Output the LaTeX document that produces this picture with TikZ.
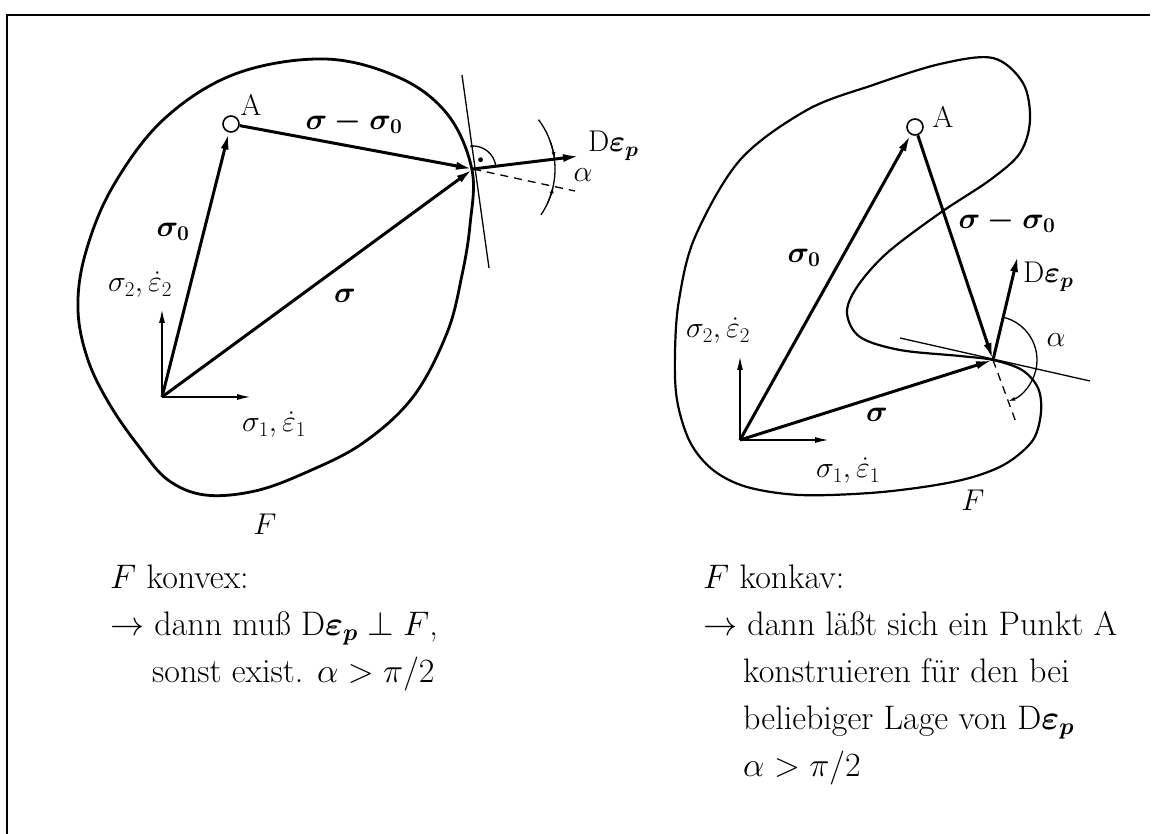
\RequirePackage{fix-cm}
\documentclass[tikz,border=0pt]{standalone}
\usepackage{amsmath,amssymb}
\usepackage{fontspec}
\usepackage{tikz}
\usetikzlibrary{arrows.meta,calc}
\tikzstyle{Lvec}   = [line width=3pt, -{Latex[length=17pt,width=8pt]}]
\tikzstyle{Laxis}  = [line width=2pt, -{Latex[length=15pt,width=6pt]}]
\tikzstyle{Lcurve} = [line width=2.8pt, line join=round]
\tikzstyle{Lthin}  = [line width=1.3pt]
\tikzstyle{Ldash}  = [line width=1.3pt, dash pattern=on 8pt off 6pt]
\tikzstyle{Lmark}  = [line width=1.3pt, -{Latex[length=7pt,width=4pt]}]
\tikzstyle{Apt}    = [circle, draw, line width=1.6pt, minimum size=16pt, inner sep=0pt]
\tikzstyle{Tlbl}   = [font=\fontsize{30}{36}\selectfont, inner sep=0pt]
\tikzstyle{Ttxt}   = [font=\fontsize{34}{41}\selectfont, inner sep=0pt, anchor=base west]
\begin{document}
\begin{tikzpicture}[x=1pt, y=-1pt]
  \useasboundingbox (0,0) rectangle (1157,834);
  \draw[line width=1.8pt] (7,834) -- (7,15) -- (1150,15);

  % F konvex
  \coordinate (O1) at (162,397);
  \coordinate (P1) at (473,169);
  \coordinate (e1a) at (252,397);
  \coordinate (e2a) at (162,308);
  \coordinate (D1) at (580,156);
  \coordinate (n1) at (575,191);
  \coordinate (t1a) at (462,75);
  \coordinate (t1b) at (489,268);
  \node[Apt] (A1) at (231,124) {};

  \draw[Lcurve] plot[smooth cycle, tension=0.6] coordinates {
    (325,59) (400,78) (448,115) (472,170) (470,225) (462,275) (447,333)
    (413,397) (363,443) (307,472) (255,491) (205,495) (168,480) (140,448)
    (110,405) (88,360) (78,310) (85,255) (112,188) (163,120) (235,74)};
  \draw[Lthin] (t1a) -- (t1b);
  \draw[Ldash] (P1) -- (n1);
  \draw[Laxis] (O1) -- (e1a);
  \draw[Laxis] (O1) -- (e2a);
  \draw[Lvec] (O1) -- (A1);
  \draw[Lvec] (A1) -- (P1);
  \draw[Lvec] (O1) -- (P1);
  \draw[Lvec] (P1) -- (D1);
  \draw[Lthin] ($(P1)+(-6.9:23)$) arc[start angle=-6.9, end angle=-96.6, radius=23];
  \fill ($(P1)+(-51:12)$) circle[radius=2.4];
  \draw[Lthin] ($(P1)+(-37:82)$) arc[start angle=-37, end angle=34, radius=82];
  \draw[Lmark] ($(P1)+(-20:82)$) arc[start angle=-20, end angle=-6.9, radius=82];
  \draw[Lmark] ($(P1)+(25:82)$) arc[start angle=25, end angle=12.2, radius=82];

  \node[Tlbl] (lA1) at (251,105) {A};
  \node[Tlbl] (ls01) at (173,232) {$\boldsymbol{\sigma_0}$};
  \node[Tlbl] (lss1) at (354,122) {$\boldsymbol{\sigma-\sigma_0}$};
  \node[Tlbl] (ls1) at (345,296) {$\boldsymbol{\sigma}$};
  \node[Tlbl] (le2a) at (140,285) {$\sigma_2,\dot{\varepsilon}_2$};
  \node[Tlbl] (le1a) at (274,425) {$\sigma_1,\dot{\varepsilon}_1$};
  \node[Tlbl, anchor=base west] (lD1) at (588,152) {D$\boldsymbol{\varepsilon_p}$};
  \node[Tlbl] (lal1) at (583,175) {$\alpha$};
  \node[Tlbl] (lF1) at (265,524) {$F$};

  % F konkav
  \coordinate (O2) at (740,440);
  \coordinate (P2) at (993,360);
  \coordinate (e1b) at (830,440);
  \coordinate (e2b) at (740,355);
  \coordinate (D2) at (1018,255);
  \coordinate (n2) at (1017,425);
  \coordinate (t2a) at (900,338);
  \coordinate (t2b) at (1090,381);
  \node[Apt] (A2) at (915,127) {};

  \draw[Lcurve, line width=2.2pt] plot[smooth cycle, tension=0.55] coordinates {
    (993,58) (1023,83) (1030,120) (1020,153) (990,180) (940,213) (887,253)
    (857,287) (847,313) (860,337) (900,350) (960,356) (993,360) (1022,370)
    (1038,388) (1041,412) (1033,440) (1007,463) (973,477) (930,486)
    (870,493) (800,495) (747,487) (713,470) (690,442) (677,400) (675,353)
    (679,300) (695,237) (740,160) (807,110) (873,85) (940,64)};
  \draw[Lthin] (t2a) -- (t2b);
  \draw[Ldash] (P2) -- (n2);
  \draw[Laxis] (O2) -- (e1b);
  \draw[Laxis] (O2) -- (e2b);
  \draw[Lvec] (O2) -- (A2);
  \draw[Lvec] (A2) -- (P2);
  \draw[Lvec] (O2) -- (P2);
  \draw[Lvec] (P2) -- (D2);
  \draw[Lmark] ($(P2)+(-76.6:44)$) arc[start angle=-76.6, end angle=69.7, radius=44];

  \node[Tlbl] (lA2) at (943,117) {A};
  \node[Tlbl] (ls02) at (804,258) {$\boldsymbol{\sigma_0}$};
  \node[Tlbl] (lss2) at (1007,221) {$\boldsymbol{\sigma-\sigma_0}$};
  \node[Tlbl] (ls2) at (877,415) {$\boldsymbol{\sigma}$};
  \node[Tlbl] (le2b) at (718,331) {$\sigma_2,\dot{\varepsilon}_2$};
  \node[Tlbl] (le1b) at (848,471) {$\sigma_1,\dot{\varepsilon}_1$};
  \node[Tlbl, anchor=base west] (lD2) at (1023,283) {D$\boldsymbol{\varepsilon_p}$};
  \node[Tlbl] (lal2) at (1056,340) {$\alpha$};
  \node[Tlbl] (lF2) at (973,500) {$F$};

  % Text
  \node[Ttxt] (tL1) at (110,588) {$F$ konvex:};
  \node[Ttxt] (tL2) at (110,635) {$\rightarrow$ dann muß D$\boldsymbol{\varepsilon_p}\perp F$,};
  \node[Ttxt] (tL3) at (152,682) {sonst exist. $\alpha>\pi/2$};
  \node[Ttxt] (tR1) at (703,588) {$F$ konkav:};
  \node[Ttxt] (tR2) at (703,635) {$\rightarrow$ dann läßt sich ein Punkt A};
  \node[Ttxt] (tR3) at (743,682) {konstruieren für den bei};
  \node[Ttxt] (tR4) at (743,729) {beliebiger Lage von D$\boldsymbol{\varepsilon_p}$};
  \node[Ttxt] (tR5) at (743,776) {$\alpha>\pi/2$};
\end{tikzpicture}
\end{document}
